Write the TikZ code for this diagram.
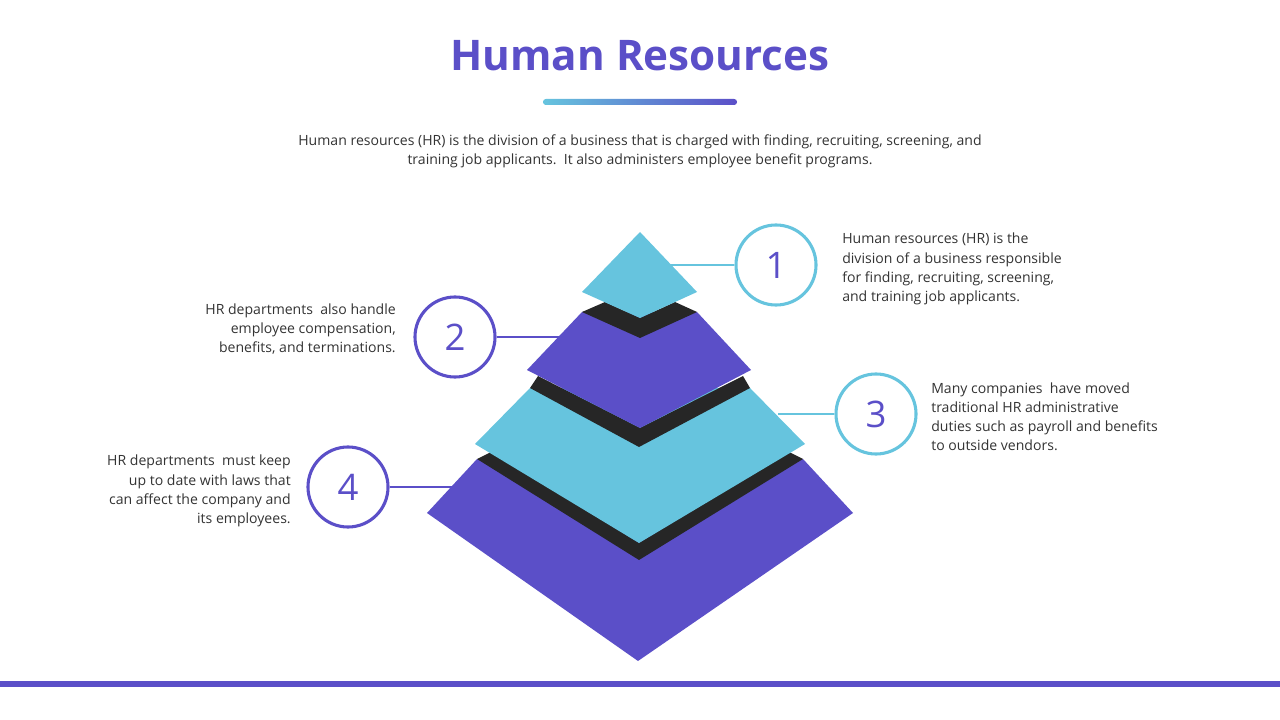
\documentclass[tikz,border=0pt]{standalone}
\usepackage{fontspec}
\setmainfont{Open Sans}
\usetikzlibrary{positioning}
\definecolor{hrpurple}{HTML}{5B4FC8}
\definecolor{hrcyan}{HTML}{66C4DE}
\definecolor{hrdark}{HTML}{262626}
\definecolor{hrtext}{HTML}{333333}
\begin{document}
\begin{tikzpicture}[
		x = 0.025cm,
		y = -0.025cm,
		num/.style = {
			circle,
			line width = 2.2pt,
			fill = white,
			minimum size = 2cm,
			inner sep = 0pt,
			text = hrpurple,
			font = \fontsize{26}{30}\selectfont
		},
		note/.style = {
			text = hrtext,
			inner sep = 0pt,
			font = \fontsize{10}{13.6}\selectfont
		},
		link/.style = {
			line width = 1.6pt
		}
	]
	\useasboundingbox (0,0) rectangle (1280,720);

	\node[text = hrpurple, font = \fontsize{30}{34}\bfseries] (title) at (640,56) {Human Resources};
	\shade[left color = hrcyan, right color = hrpurple, rounded corners = 2pt] (543,99) rectangle (737,105);
	\node[note, align = center] (intro) at (640,151) {
		Human resources (HR) is the division of a business that is charged with finding, recruiting, screening, and \\
		training job applicants.\ \ It also administers employee benefit programs.
	};

	% pyramid, bottom tier first
	\fill[hrpurple] (477,459) -- (803,459) -- (853,513) -- (638,661) -- (427,513) -- cycle;
	\fill[hrdark] (477,459) -- (491,452) -- (639,543) -- (789,452) -- (803,459) -- (639,560) -- cycle;
	\fill[hrcyan] (530,388) -- (750,388) -- (805,444) -- (639,543) -- (475,444) -- cycle;
	\fill[hrdark] (530,388) -- (538,376) -- (640,428) -- (743,376) -- (750,388) -- (639,447) -- cycle;
	\fill[hrpurple] (582,312) -- (697,312) -- (751,370) -- (640,428) -- (527,370) -- cycle;
	\fill[hrdark] (582,312) -- (605,302) -- (640,318) -- (675,302) -- (697,312) -- (640,338) -- cycle;
	\fill[hrcyan] (640,232) -- (697,292) -- (640,318) -- (582,292) -- cycle;

	\coordinate (t1) at (668,265);
	\coordinate (t2) at (560,337);
	\coordinate (t3) at (778,414);
	\coordinate (t4) at (455,487);

	\node[num, draw = hrcyan] (n1) at (776,265) {1};
	\node[num, draw = hrpurple] (n2) at (455,337) {2};
	\node[num, draw = hrcyan] (n3) at (876,414) {3};
	\node[num, draw = hrpurple] (n4) at (348,487) {4};

	\draw[link, hrcyan] (t1) -- (n1);
	\draw[link, hrpurple] (t2) -- (n2);
	\draw[link, hrcyan] (t3) -- (n3);
	\draw[link, hrpurple] (t4) -- (n4);

	\node[note, align = left, anchor = west] (d1) at (842,269) {
		Human resources (HR) is the \\
		division of a business responsible \\
		for finding, recruiting, screening, \\
		and training job applicants.
	};
	\node[note, align = right, anchor = east] (d2) at (396,329) {
		HR departments\ \ also handle \\
		employee compensation, \\
		benefits, and terminations.
	};
	\node[note, align = left, anchor = west] (d3) at (931,417) {
		Many companies\ \ have moved \\
		traditional HR administrative \\
		duties such as payroll and benefits \\
		to outside vendors.
	};
	\node[note, align = right, anchor = east] (d4) at (291,491) {
		HR departments\ \ must keep \\
		up to date with laws that \\
		can affect the company and \\
		its employees.
	};

	\fill[hrpurple] (0,681) rectangle (1280,687);
\end{tikzpicture}
\end{document}
